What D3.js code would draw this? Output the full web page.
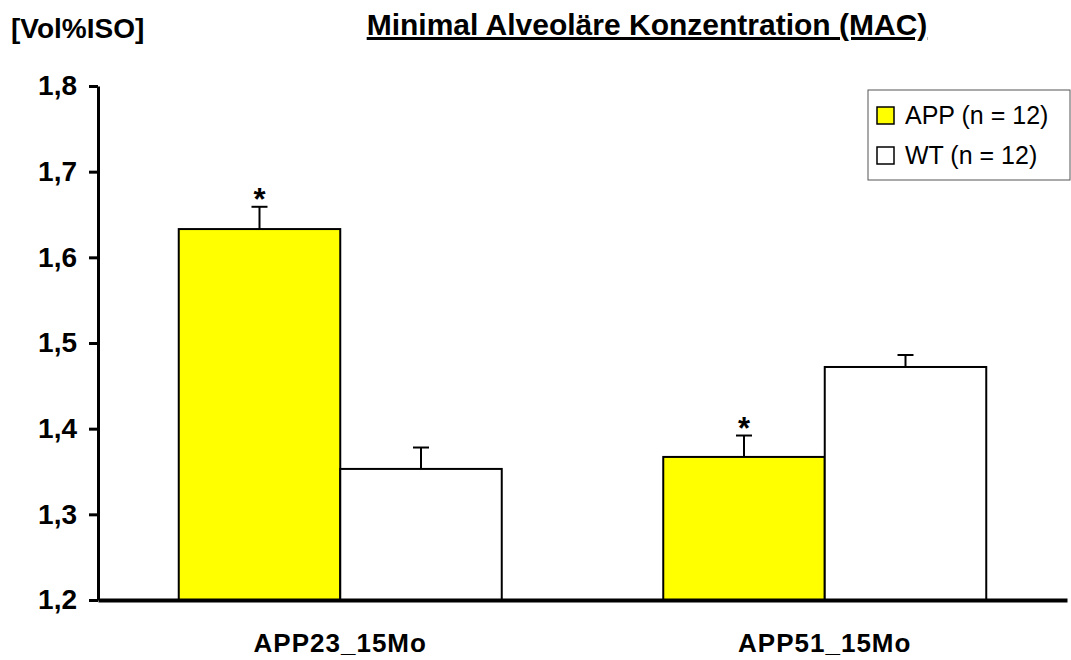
<!DOCTYPE html>
<html>
<head>
<meta charset="utf-8">
<script src="https://cdn.jsdelivr.net/npm/d3@7/dist/d3.min.js"></script>
<style>
  body { margin: 0; background: #fff; }
  text { font-family: Arial, "Liberation Sans", sans-serif; }
</style>
</head>
<body>
<div id="chart"></div>
<script>
// data
const categories = ['APP23_15Mo', 'APP51_15Mo'];
const seriesNames = ['APP (n = 12)', 'WT (n = 12)'];
const seriesColors = ['#ffff00', '#ffffff'];
const appValues = [1.633, 1.367];
const appErrors = [0.026, 0.025];
const wtValues = [1.353, 1.472];
const wtErrors = [0.025, 0.014];
const significant = [[true, false], [true, false]];
const yTicks = [1.2, 1.3, 1.4, 1.5, 1.6, 1.7, 1.8];

const width = 1071, height = 660;
const margin = { top: 86, right: 4, bottom: 60, left: 98 };

const svg = d3.select('#chart').append('svg')
  .attr('width', width)
  .attr('height', height);

const x = d3.scaleBand()
  .domain(categories)
  .range([margin.left, width - margin.right]);

const inner = d3.scaleBand()
  .domain([0, 1])
  .range([0, x.bandwidth()])
  .paddingOuter(0.5)
  .paddingInner(0);

const y = d3.scaleLinear()
  .domain([1.2, 1.8])
  .range([height - margin.bottom, margin.top]);

// rows for the bars
const rows = [];
categories.forEach((c, i) => {
  rows.push({ cat: c, s: 0, value: appValues[i], err: appErrors[i], star: significant[i][0] });
  rows.push({ cat: c, s: 1, value: wtValues[i], err: wtErrors[i], star: significant[i][1] });
});

// bars
svg.append('g')
  .selectAll('rect')
  .data(rows)
  .join('rect')
  .attr('x', d => x(d.cat) + inner(d.s))
  .attr('y', d => y(d.value))
  .attr('width', inner.bandwidth())
  .attr('height', d => y(1.2) - y(d.value))
  .attr('fill', d => seriesColors[d.s])
  .attr('stroke', '#000')
  .attr('stroke-width', 2);

// error bars (upper only)
const eb = svg.append('g').attr('stroke', '#000').attr('stroke-width', 2);
rows.forEach(d => {
  const cx = x(d.cat) + inner(d.s) + inner.bandwidth() / 2;
  eb.append('line')
    .attr('x1', cx).attr('x2', cx)
    .attr('y1', y(d.value)).attr('y2', y(d.value + d.err));
  eb.append('line')
    .attr('x1', cx - 8).attr('x2', cx + 8)
    .attr('y1', y(d.value + d.err)).attr('y2', y(d.value + d.err));
});

// significance stars
svg.append('g')
  .selectAll('text')
  .data(rows.filter(d => d.star))
  .join('text')
  .attr('x', d => x(d.cat) + inner(d.s) + inner.bandwidth() / 2)
  .attr('y', d => y(d.value + d.err) + 3)
  .attr('text-anchor', 'middle')
  .attr('font-size', 31)
  .attr('font-weight', 'bold')
  .text('*');

// y axis
const yAxis = svg.append('g')
  .attr('transform', `translate(${margin.left},0)`)
  .call(d3.axisLeft(y).tickValues(yTicks).tickSize(9).tickSizeOuter(0)
    .tickFormat(d => d3.format('.1f')(d).replace('.', ',')));
yAxis.select('.domain').attr('stroke-width', 3);
yAxis.selectAll('.tick line').attr('stroke-width', 3);
yAxis.selectAll('.tick text')
  .attr('x', -21)
  .attr('font-size', 28)
  .attr('font-weight', 'bold')
  .attr('fill', '#000');

// x axis
const xAxis = svg.append('g')
  .attr('transform', `translate(0,${y(1.2)})`)
  .call(d3.axisBottom(x).tickSize(0).tickSizeOuter(0));
xAxis.select('.domain').attr('stroke-width', 4);
xAxis.selectAll('.tick text')
  .attr('dy', 0)
  .attr('y', 52)
  .attr('font-size', 26)
  .attr('font-weight', 'bold')
  .attr('letter-spacing', 1)
  .attr('fill', '#000');

// y unit label
svg.append('text')
  .attr('x', 11)
  .attr('y', 38)
  .attr('font-size', 28)
  .attr('font-weight', 'bold')
  .text('[Vol%ISO]');

// title
svg.append('text')
  .attr('x', 647)
  .attr('y', 35)
  .attr('text-anchor', 'middle')
  .attr('font-size', 30)
  .attr('font-weight', 'bold')
  .attr('text-decoration', 'underline')
  .text('Minimal Alveoläre Konzentration (MAC)');

// legend
const legend = svg.append('g').attr('transform', 'translate(868,90)');
legend.append('rect')
  .attr('width', 202).attr('height', 90)
  .attr('fill', '#fff').attr('stroke', '#555').attr('stroke-width', 1);
seriesNames.forEach((name, i) => {
  const g = legend.append('g').attr('transform', `translate(9,${17 + i * 40})`);
  g.append('rect')
    .attr('width', 17).attr('height', 17)
    .attr('fill', seriesColors[i]).attr('stroke', '#000').attr('stroke-width', 1.5);
  g.append('text')
    .attr('x', 28).attr('y', 17)
    .attr('font-size', 25)
    .text(name);
});
</script>
</body>
</html>
